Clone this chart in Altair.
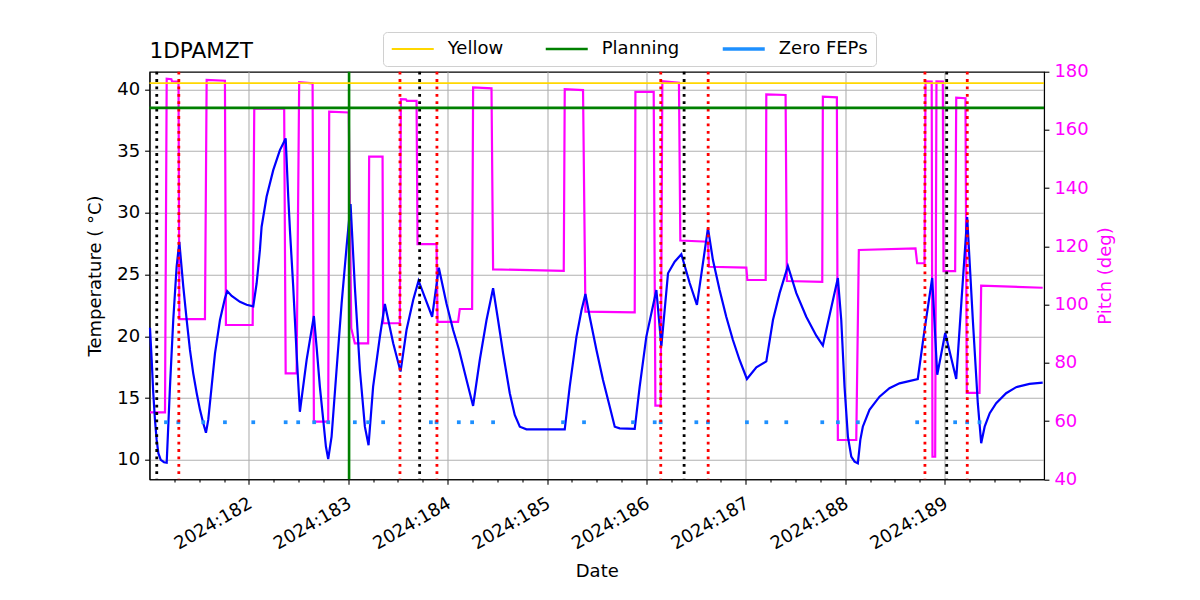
import altair as alt
import pandas as pd

# ---------------- data ----------------
chart_title = ["1DPAMZT"]

temp_day = [181.005, 181.022, 181.038, 181.055, 181.072, 181.089, 181.113, 181.146,
            181.173, 181.206, 181.239, 181.273, 181.300, 181.340, 181.374, 181.407,
            181.440, 181.475, 181.508, 181.541, 181.568, 181.591, 181.625, 181.659,
            181.709, 181.759, 181.782, 181.827, 181.910, 181.977, 182.044, 182.078,
            182.111, 182.128, 182.178, 182.245, 182.312, 182.370, 182.396, 182.413,
            182.446, 182.480, 182.513, 182.581, 182.654, 182.681, 182.714, 182.748,
            182.775, 182.798, 182.832, 182.882, 182.933, 182.983, 183.023, 183.066,
            183.117, 183.167, 183.204, 183.250, 183.318, 183.368, 183.452, 183.526,
            183.586, 183.653, 183.707, 183.844, 183.911, 183.988, 184.055, 184.115,
            184.190, 184.256, 184.323, 184.391, 184.457, 184.507, 184.558, 184.625,
            184.675, 184.726, 184.793, 185.178, 185.228, 185.296, 185.346, 185.386,
            185.429, 185.497, 185.563, 185.631, 185.681, 185.731, 185.882, 185.932,
            185.999, 186.100, 186.150, 186.217, 186.284, 186.351, 186.435, 186.508,
            186.619, 186.669, 186.736, 186.803, 186.870, 186.937, 187.011, 187.106,
            187.206, 187.273, 187.340, 187.423, 187.508, 187.608, 187.709, 187.775,
            187.926, 187.960, 187.993, 188.027, 188.061, 188.094, 188.127, 188.152,
            188.177, 188.244, 188.345, 188.445, 188.546, 188.730, 188.798, 188.875,
            188.926, 189.006, 189.117, 189.168, 189.227, 189.284, 189.334, 189.368,
            189.403, 189.454, 189.519, 189.619, 189.720, 189.854, 189.987]
temp_val = [20.7, 18.09, 15.4, 13.24, 11.62, 10.54, 10.0, 9.81,
            9.78, 15.93, 21.33, 25.65, 27.66, 24.03, 21.33, 18.9,
            17.01, 15.4, 14.05, 12.97, 12.2, 13.24, 15.93, 18.63,
            21.33, 23.08, 23.67, 23.27, 22.8, 22.56, 22.43, 24.3,
            27.0, 28.88, 31.3, 33.46, 35.08, 36.03, 31.3, 28.6,
            24.03, 18.63, 13.9, 18.1, 21.65, 19.17, 15.93, 13.24,
            11.08, 10.06, 11.89, 17.28, 22.67, 27.26, 30.71, 24.03,
            17.28, 12.69, 11.19, 15.93, 19.98, 22.62, 19.44, 17.15,
            20.52, 22.94, 24.51, 21.59, 25.56, 22.67, 20.52, 18.9,
            16.47, 14.37, 18.09, 21.33, 23.9, 21.33, 18.63, 15.4,
            13.64, 12.69, 12.48, 12.48, 15.93, 19.98, 22.1, 23.43,
            21.59, 18.9, 16.47, 14.31, 12.69, 12.56, 12.51, 15.93,
            19.98, 23.75, 19.2, 25.11, 26.05, 26.65, 24.32, 22.55,
            28.76, 26.18, 23.75, 21.59, 19.71, 18.09, 16.55, 17.5,
            17.98, 21.33, 23.5, 25.7, 23.5, 21.59, 20.06, 19.26,
            24.73, 21.33, 15.93, 11.89, 10.27, 9.86, 9.73, 11.62,
            12.69, 14.05, 15.12, 15.8, 16.2, 16.55, 20.52, 24.73,
            16.9, 20.28, 16.56, 22.67, 29.66, 21.33, 14.59, 11.35,
            12.69, 13.78, 14.59, 15.4, 15.89, 16.15, 16.25]

pitch_day = [181.005, 181.156, 181.173, 181.220, 181.226, 181.292, 181.300, 181.558,
             181.575, 181.759, 181.769, 182.038, 182.054, 182.355, 182.370, 182.480,
             182.506, 182.641, 182.654, 182.798, 182.808, 183.005, 183.030, 183.066,
             183.200, 183.210, 183.345, 183.351, 183.519, 183.529, 183.580, 183.590,
             183.687, 183.697, 183.888, 183.898, 184.105, 184.122, 184.246, 184.256,
             184.441, 184.457, 185.168, 185.178, 185.362, 185.386, 185.882, 185.889,
             186.073, 186.090, 186.143, 186.160, 186.327, 186.341, 186.619, 186.629,
             187.005, 187.015, 187.200, 187.206, 187.400, 187.413, 187.769, 187.775,
             187.916, 187.926, 188.111, 188.137, 188.707, 188.724, 188.798, 188.808,
             188.870, 188.878, 188.905, 188.918, 188.982, 188.989, 189.106, 189.117,
             189.210, 189.223, 189.351, 189.368, 189.987]
pitch_val = [63.0, 63.0, 177.6, 177.4, 176.7, 176.6, 95.0, 95.0,
             177.2, 176.9, 93.0, 93.0, 167.3, 167.3, 76.4, 76.4,
             176.4, 176.0, 59.8, 59.8, 166.3, 166.0, 91.9, 86.7,
             86.7, 150.8, 150.8, 93.6, 93.6, 170.6, 170.5, 170.0,
             170.0, 120.8, 120.8, 94.1, 94.1, 98.5, 98.5, 174.6,
             174.3, 112.1, 111.6, 174.0, 173.7, 97.6, 97.35, 173.1,
             173.1, 65.3, 65.3, 176.7, 176.2, 122.0, 121.6, 113.0,
             112.7, 108.45, 108.45, 172.2, 172.0, 108.1, 107.85, 171.4,
             171.2, 53.5, 53.5, 118.75, 119.3, 114.2, 114.2, 176.7,
             176.6, 47.75, 47.75, 176.7, 176.6, 111.5, 111.5, 171.1,
             170.9, 69.7, 69.7, 106.5, 105.8]

fep_day = [181.166, 181.290, 181.541, 181.759, 182.044, 182.370, 182.496, 182.657,
           182.798, 183.066, 183.200, 183.351, 183.831, 183.888, 184.112, 184.246,
           184.457, 185.161, 185.372, 185.865, 186.083, 186.143, 186.502, 186.619,
           187.011, 187.206, 187.407, 187.769, 187.926, 188.127, 188.724, 189.106,
           189.227, 189.351]
fep_temp = 13.05

limit_names = ["Yellow", "Planning", "Zero FEPs"]
limit_colors = ["#ffd700", "#008000", "#1e90ff"]
limit_widths = [1.8, 3.3, 3.3]
limit_vals = [40.5, 38.5]

black_lines = [181.073, 183.718, 186.379, 189.021]
red_lines = [181.295, 183.520, 183.892, 186.144, 186.621, 188.802, 189.228]
planning_day = [183.008]

major_days = [182, 183, 184, 185, 186, 187, 188, 189]
temp_ticks = [10, 15, 20, 25, 30, 35, 40]
pitch_ticks = [40, 60, 80, 100, 120, 140, 160, 180]

# ---------------- frames ----------------
temp_df = pd.DataFrame({"day": temp_day, "temp": temp_val})
pitch_df = pd.DataFrame({"day": pitch_day, "pitch": pitch_val})
fep_df = pd.DataFrame({"day": fep_day, "temp": [fep_temp] * len(fep_day)})
lim_df = pd.DataFrame({"name": limit_names[:2], "temp": limit_vals})
black_df = pd.DataFrame({"day": black_lines})
red_df = pd.DataFrame({"day": red_lines})
plan_df = pd.DataFrame({"day": planning_day})
title_df = pd.DataFrame({"t": chart_title})

minor_days = [181 + i * 0.25 for i in range(37) if i % 4 != 0]

FONT = "DejaVu Sans"
FS = 18
xscale = alt.Scale(domain=[181, 190], nice=False, zero=False)
tscale = alt.Scale(domain=[8.43, 41.43], nice=False, zero=False)
pscale = alt.Scale(domain=[40, 180], nice=False, zero=False)

x_major = alt.X("day:Q", scale=xscale, title="Date",
                axis=alt.Axis(values=major_days, labelExpr="'2024:' + datum.value",
                              labelAngle=-30, labelAlign="right", labelBaseline="top",
                              labelPadding=10, labelOffset=-3, labelFontSize=FS,
                              titleFontSize=FS, titlePadding=10,
                              grid=True, tickSize=4.9, orient="bottom"))
x_plain = alt.X("day:Q", scale=xscale)
y_temp = alt.Y("temp:Q", scale=tscale, title="Temperature ( °C)",
               axis=alt.Axis(values=temp_ticks, grid=True, tickSize=4.9,
                             labelPadding=5, labelFontSize=FS, titleFontSize=FS,
                             titlePadding=12))

legend_props = dict(orient="none", legendX=233.5, legendY=-39.7,
                    direction="horizontal", symbolType="M-3,0H3",
                    symbolSize=196, symbolOffset=12.75,
                    labelFontSize=FS, labelFont=FONT,
                    labelOffset=26, columnPadding=36,
                    padding=8, fillColor="white",
                    strokeColor="#d0d0d0", cornerRadius=4)

DOT = [2.8, 4.6]
temp_line = alt.Chart(temp_df).mark_line(color="#0000ff", strokeWidth=2.2).encode(x=x_major, y=y_temp)
fep_pts = alt.Chart(fep_df).mark_square(size=14, color="#1e90ff", opacity=1).encode(
    x=x_plain, y=alt.Y("temp:Q", scale=tscale))
blk = alt.Chart(black_df).mark_rule(color="black", strokeWidth=2.8, strokeDash=DOT).encode(x=x_plain)
red = alt.Chart(red_df).mark_rule(color="red", strokeWidth=2.8, strokeDash=DOT).encode(x=x_plain)
plan = alt.Chart(plan_df).mark_rule(color="#008000", strokeWidth=2.6).encode(x=x_plain)
lims = alt.Chart(lim_df).mark_rule().encode(
    y=alt.Y("temp:Q", scale=tscale),
    color=alt.Color("name:N", title=None,
                    scale=alt.Scale(domain=limit_names, range=limit_colors),
                    legend=alt.Legend(**legend_props)),
    strokeWidth=alt.StrokeWidth("name:N", title=None,
                                scale=alt.Scale(domain=limit_names, range=limit_widths),
                                legend=alt.Legend(**legend_props)))
title_txt = alt.Chart(title_df).mark_text(align="left", baseline="alphabetic",
                                          fontSize=21.6, font=FONT, color="black").encode(
    text="t:N", x=alt.value(0), y=alt.value(-13.4))

pitch_line = alt.Chart(pitch_df).mark_line(color="#ff00ff", strokeWidth=2.2).encode(
    x=alt.X("day:Q", scale=xscale,
            axis=alt.Axis(values=minor_days, labels=False, tickSize=2.8, grid=False,
                          domain=False, title=None, orient="bottom")),
    y=alt.Y("pitch:Q", scale=pscale, title="Pitch (deg)",
            axis=alt.Axis(values=pitch_ticks, grid=False, orient="right", tickSize=4.9,
                          labelPadding=5, labelColor="#ff00ff", titleColor="#ff00ff",
                          labelFontSize=FS, titleFontSize=FS, titlePadding=8,
                          titleAngle=270, titleBaseline="top")))

temp_group = alt.layer(temp_line, fep_pts, blk, red, plan, lims, title_txt)

chart = alt.layer(pitch_line, temp_group).resolve_scale(y="independent").resolve_axis(
    x="independent").properties(
    width=894.5, height=407.6,
    autosize=alt.AutoSizeParams(type="none"),
    padding={"left": 141.5, "top": 63.7, "right": 148, "bottom": 112.7},
).configure(font=FONT).configure_axis(
    labelFont=FONT, titleFont=FONT, labelColor="black", titleColor="black",
    titleFontWeight="normal", domainColor="black", tickColor="black",
    domainWidth=1.1, tickWidth=1.1, gridColor="#b0b0b0", gridWidth=1.1,
).configure_view(stroke="black", strokeWidth=1.1)

chart.save("out.html", embed_options={"renderer": "svg", "actions": False})
